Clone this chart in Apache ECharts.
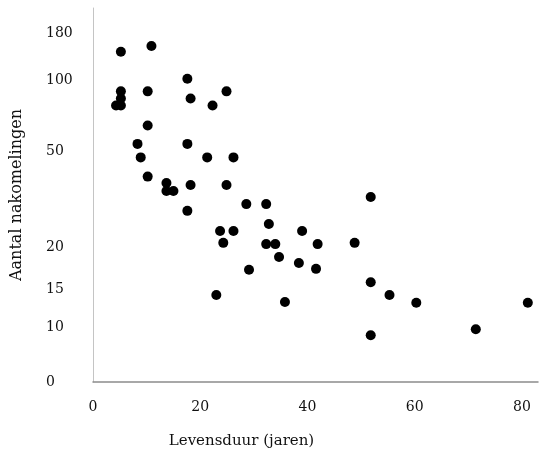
<!DOCTYPE html>
<html>
<head>
<meta charset="utf-8">
<script src="https://cdn.jsdelivr.net/npm/echarts@6/dist/echarts.min.js"></script>
<style>
  html, body { margin: 0; padding: 0; background: #fff; }
  #chart { width: 541px; height: 457px; }
</style>
</head>
<body>
<div id="chart"></div>
<script>
// levensduur (jaren)
const lifespan = [
  5.2, 10.9, 5.2, 5.2, 4.3, 5.2, 10.2, 17.6, 18.2, 22.3, 24.9, 10.2,
  8.3, 17.6, 8.9, 21.3, 26.2, 10.2, 13.7, 13.7, 15.0, 18.2, 24.9, 17.6,
  28.6, 32.3, 51.8, 32.8, 23.7, 26.2, 39.0, 24.3, 32.3, 34.0, 41.9, 48.8,
  34.7, 38.4, 41.6, 29.1, 51.8, 23.0, 35.8, 55.3, 60.3, 81.1, 71.4, 51.8
];
// aantal nakomelingen
const offspring = [
  148, 158, 92, 87, 82, 82, 92, 102, 87, 82, 92, 68,
  55, 55, 48, 48, 48, 42, 40, 37.5, 37.5, 39.4, 39.4, 31.3,
  33.4, 33.4, 35.6, 27.2, 25, 25, 25, 21.3, 20.9, 20.9, 20.9, 21.3,
  18.8, 18.1, 17.4, 17.3, 15.8, 14.2, 13.3, 14.2, 13.2, 13.2, 9.6, 8.5
];
// the y axis of the original is hand-labelled: each label sits at its own step
const yTickLabels = [0, 10, 15, 20, 50, 100, 180];
const yTickAt = [0, 5.5, 9.3, 13.5, 23.1, 30.2, 34.9];
const xTicks = [0, 20, 40, 60, 80];

function toAxis(v) {
  let i = 0;
  while (i < yTickLabels.length - 2 && v > yTickLabels[i + 1]) i++;
  const v0 = yTickLabels[i], v1 = yTickLabels[i + 1];
  const p0 = yTickAt[i], p1 = yTickAt[i + 1];
  return p0 + (v - v0) / (v1 - v0) * (p1 - p0);
}

const points = lifespan.map((x, i) => [x, toAxis(offspring[i])]);

const font = "'DejaVu Serif', 'Liberation Serif', serif";
let mychart = echarts.init(document.getElementById("chart"));
const option = {
  animation: false,
  grid: { left: 93, right: 0, top: 8, bottom: 75 },
  xAxis: {
    type: "value",
    min: 0,
    max: 83,
    interval: 20,
    name: "Levensduur (jaren)",
    nameLocation: "middle",
    nameGap: 52,
    nameTextStyle: { fontFamily: font, fontSize: 15, color: "#111", padding: [0, 148, 0, 0] },
    axisLine: { show: true, lineStyle: { color: "#8c8c8c", width: 1.5 } },
    axisTick: { show: false },
    splitLine: { show: false },
    axisLabel: {
      margin: 18,
      fontFamily: font,
      fontSize: 14,
      color: "#111",
      formatter: (v) => (xTicks.indexOf(v) >= 0 ? String(v) : ""),
    },
  },
  yAxis: {
    type: "value",
    min: 0,
    max: 37.4,
    name: "Aantal nakomelingen",
    nameLocation: "middle",
    nameGap: 68,
    nameTextStyle: { fontFamily: font, fontSize: 16, color: "#111" },
    axisLine: { show: true, lineStyle: { color: "#c4c4c4", width: 1 } },
    axisTick: { show: false },
    splitLine: { show: false },
    axisLabel: {
      customValues: yTickAt,
      align: "left",
      margin: 47,
      fontFamily: font,
      fontSize: 14,
      color: "#111",
      formatter: (v) => {
        const i = yTickAt.findIndex((p) => Math.abs(p - v) < 1e-6);
        return i >= 0 ? String(yTickLabels[i]) : "";
      },
    },
  },
  series: [
    {
      type: "scatter",
      data: points,
      symbol: "circle",
      symbolSize: 10,
      itemStyle: { color: "#000", opacity: 1 },
    },
  ],
};
mychart.setOption(option);
</script>
</body>
</html>
